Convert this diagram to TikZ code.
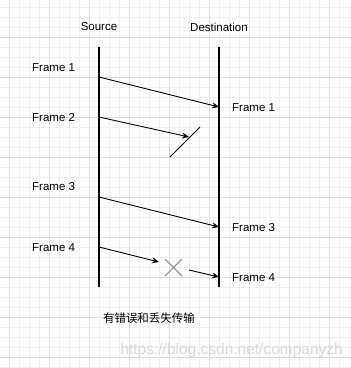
\documentclass[tikz,border=0pt]{standalone}
\usepackage{fontspec}
\setmainfont{Liberation Sans}
\newfontfamily\cjk{Noto Sans CJK SC}
\usepackage{tikz}
\usetikzlibrary{arrows.meta,calc}
\definecolor{minorgrid}{HTML}{F0F0F0}
\definecolor{majorgrid}{HTML}{DDDDDD}
\tikzset{
  lbl/.style={font=\fontsize{11.5}{13}\selectfont,inner sep=0pt},
  msg/.style={-{Stealth[length=7pt,width=6pt]},line width=0.9pt},
  life/.style={line width=1.2pt}
}
\begin{document}
\begin{tikzpicture}[x=1pt,y=-1pt]
\useasboundingbox (0,0) rectangle (351,368);
\fill[white] (0,0) rectangle (351,368);
% grid
\foreach \x in {-1,9,...,351} \draw[minorgrid,line width=0.7pt] (\x,0)--(\x,368);
\foreach \y in {7,17,...,368} \draw[minorgrid,line width=0.7pt] (0,\y)--(351,\y);
\foreach \x in {9,49,...,351} \draw[majorgrid,line width=0.7pt] (\x,0)--(\x,368);
\foreach \y in {37,77,...,368} \draw[majorgrid,line width=0.7pt] (0,\y)--(351,\y);
% lifelines
\node[lbl] (src) at (99,27) {Source};
\node[lbl] (dst) at (219,27) {Destination};
\coordinate (srcTop) at (99,47); \coordinate (srcBot) at (99,287);
\coordinate (dstTop) at (219,47); \coordinate (dstBot) at (219,287);
\draw[life] (srcTop)--(srcBot);
\draw[life] (dstTop)--(dstBot);
% frames
\node[lbl,anchor=west] (f1) at (32,68) {Frame 1};
\node[lbl,anchor=west] (f2) at (32,118) {Frame 2};
\node[lbl,anchor=west] (f3) at (32,187) {Frame 3};
\node[lbl,anchor=west] (f4) at (32,248) {Frame 4};
\node[lbl,anchor=west] (r1) at (232,108) {Frame 1};
\node[lbl,anchor=west] (r3) at (232,228) {Frame 3};
\node[lbl,anchor=west] (r4) at (232,278) {Frame 4};
\coordinate (s1) at (99,77);  \coordinate (d1) at (219,107);
\coordinate (s2) at (99,117); \coordinate (d2) at (189,137);
\coordinate (s3) at (99,197); \coordinate (d3) at (219,227);
\coordinate (s4) at (99,247); \coordinate (d4) at (159,262);
\coordinate (e4) at (189,270); \coordinate (t4) at (219,277);
\draw[msg] (s1)--(d1);
\draw[msg] (s2)--(d2);
\draw[line width=0.9pt] (170,157)--(200,127);
\draw[msg] (s3)--(d3);
\draw[msg] (s4)--(d4);
\draw[gray!80,line width=1.3pt] (165,259)--(182,276) (165,276)--(182,259);
\draw[msg] (e4)--(t4);
% caption
\node[font=\cjk\fontsize{11.5}{13}\selectfont,inner sep=0pt] (cap) at (149,318) {有错误和丢失传输};
\node[font=\fontsize{15.5}{17}\selectfont,text=gray!30,inner sep=0pt,anchor=east] (wm) at (343,350) {https://blog.csdn.net/companyzh};
\end{tikzpicture}
\end{document}
